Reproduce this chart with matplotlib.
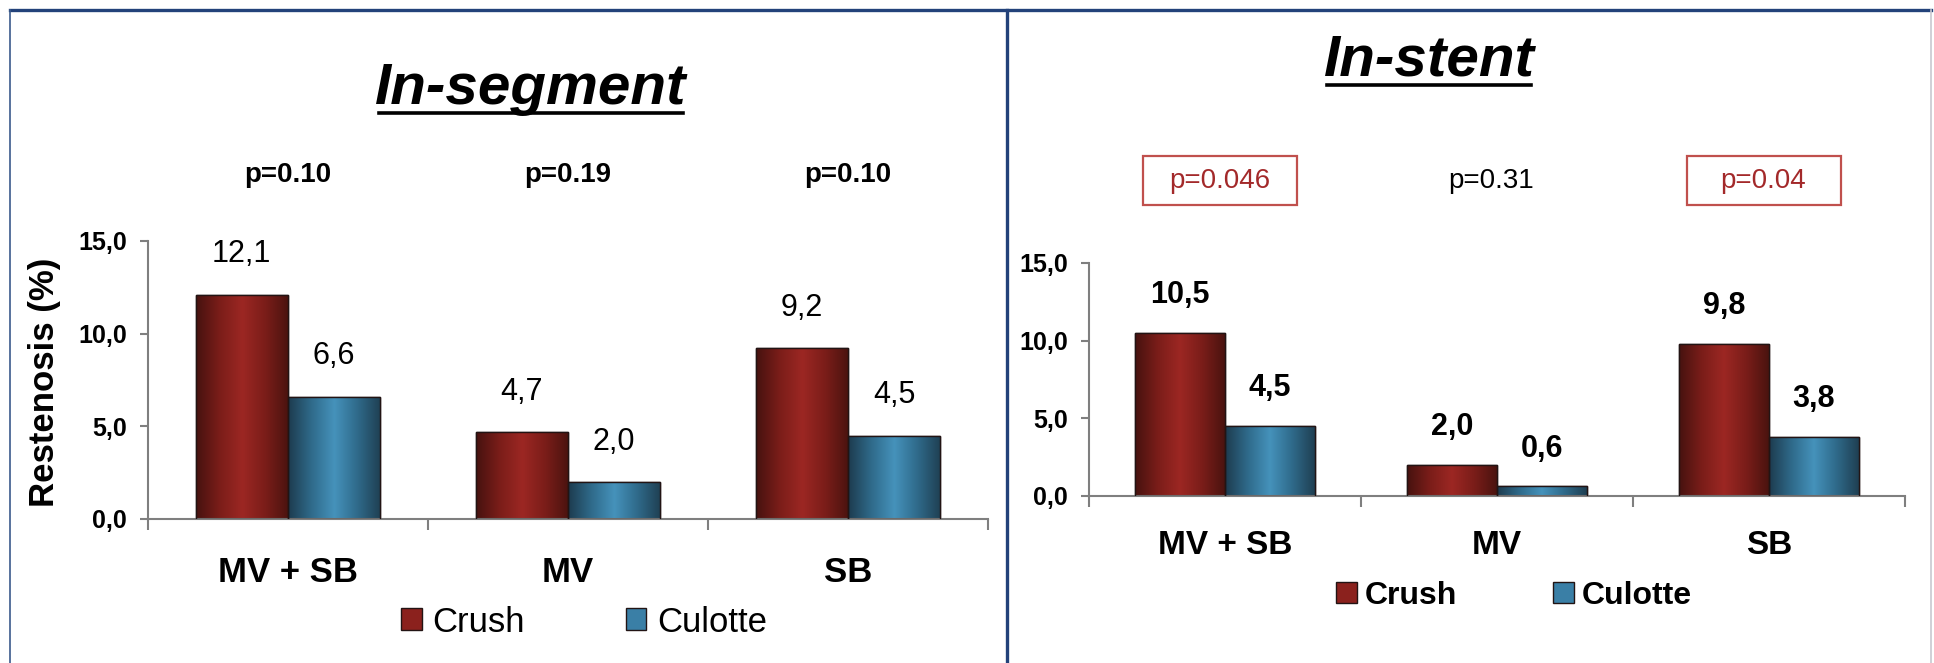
import matplotlib
matplotlib.use('Agg')
import numpy as np
import matplotlib.pyplot as plt
from matplotlib.colors import LinearSegmentedColormap
from matplotlib.lines import Line2D
from matplotlib.patches import Patch, Rectangle
from matplotlib.transforms import blended_transform_factory

plt.rcParams['font.family'] = ['Liberation Sans', 'DejaVu Sans']

# ------------------------------------------------------------------
# data
# ------------------------------------------------------------------
categories = ['MV + SB', 'MV', 'SB']
series_names = ['Crush', 'Culotte']

seg_crush = [12.1, 4.7, 9.2]
seg_culotte = [6.6, 2.0, 4.5]
seg_pvalues = ['p=0.10', 'p=0.19', 'p=0.10']

stent_crush = [10.5, 2.0, 9.8]
stent_culotte = [4.5, 0.6, 3.8]
stent_pvalues = ['p=0.046', 'p=0.31', 'p=0.04']
stent_significant = [True, False, True]

y_ticks = [0, 5, 10, 15]
# ------------------------------------------------------------------

W, H = 1934, 663
DPI = 100

crush_cmap = LinearSegmentedColormap.from_list(
    'crush', ['#46120f', '#7a1d19', '#9c2723', '#7a1d19', '#4a130f'])
culotte_cmap = LinearSegmentedColormap.from_list(
    'culotte', ['#1d3b4e', '#2f6a8a', '#4592bb', '#2f6a8a', '#1f3f52'])
crush_flat = '#8b211d'
culotte_flat = '#3a7fa6'
red_text = '#a3292a'


def fmt(v):
    return f'{v:.1f}'.replace('.', ',')


def shaded_bars(ax, xs, values, width, cmap, flat):
    bars = ax.bar(xs, values, width, color=flat, edgecolor='#221414',
                  linewidth=1.0, zorder=2)
    grad = np.linspace(0, 1, 256).reshape(1, -1)
    for b in bars:
        x0 = b.get_x()
        im = ax.imshow(grad, cmap=cmap, aspect='auto', zorder=2.5,
                       extent=[x0, x0 + b.get_width(), 0, b.get_height()])
        im.set_clip_path(b)
        edge = Rectangle((x0, 0), b.get_width(), b.get_height(), fill=False,
                         edgecolor='#221414', linewidth=1.0, zorder=3)
        ax.add_patch(edge)
    return bars


def style_axes(ax, label_pad, tick_size):
    for side in ['top', 'right']:
        ax.spines[side].set_visible(False)
    for side in ['left', 'bottom']:
        ax.spines[side].set_color('#7f7f7f')
        ax.spines[side].set_linewidth(1.5)
    ax.set_xlim(-0.5, 2.5)
    ax.set_ylim(0, 15)
    ax.set_yticks(y_ticks)
    ax.set_yticklabels([fmt(v) for v in y_ticks], fontsize=18, fontweight='bold')
    ax.tick_params(axis='y', length=6, width=1.5, color='#7f7f7f', pad=9)
    # boundary ticks between groups, names on minor ticks
    ax.set_xticks([-0.5, 0.5, 1.5, 2.5])
    ax.set_xticklabels([])
    ax.tick_params(axis='x', which='major', length=8, width=1.5, color='#7f7f7f')
    ax.set_xticks([0, 1, 2], minor=True)
    ax.set_xticklabels(categories, minor=True, fontsize=tick_size, fontweight='bold')
    ax.tick_params(axis='x', which='minor', length=0, pad=label_pad)


def draw_panel(ax, crush, culotte, value_weight, offset):
    x = np.arange(len(categories))
    bw = 0.33
    shaded_bars(ax, x - bw / 2, crush, bw, crush_cmap, crush_flat)
    shaded_bars(ax, x + bw / 2, culotte, bw, culotte_cmap, culotte_flat)
    for xi, v in zip(x - bw / 2, crush):
        ax.annotate(fmt(v), (xi, v), xytext=(0, offset), textcoords='offset points',
                    ha='center', va='center', fontsize=22, fontweight=value_weight)
    for xi, v in zip(x + bw / 2, culotte):
        ax.annotate(fmt(v), (xi, v), xytext=(0, offset), textcoords='offset points',
                    ha='center', va='center', fontsize=22, fontweight=value_weight)


def underlined_title(fig, text, x, y):
    t = fig.text(x, y, text, ha='center', va='baseline', fontsize=42,
                 fontweight='bold', fontstyle='italic')
    fig.canvas.draw()
    bb = t.get_window_extent().transformed(fig.transFigure.inverted())
    uy = y - 9 / H
    fig.add_artist(Line2D([bb.x0 + 0.002, bb.x1 - 0.002], [uy, uy],
                          transform=fig.transFigure, color='black', linewidth=2.6))


fig = plt.figure(figsize=(W / DPI, H / DPI), dpi=DPI)

# In-segment panel
ax1 = fig.add_axes([148 / W, 1 - 519 / H, 840 / W, 278 / H])
draw_panel(ax1, seg_crush, seg_culotte, 'normal', 29)
style_axes(ax1, 27, 25)
ax1.set_ylabel('Restenosis (%)', fontsize=25, fontweight='bold')
ax1.yaxis.set_label_coords(-0.103, 0.49)

tr1 = blended_transform_factory(ax1.transData, fig.transFigure)
for i, p in enumerate(seg_pvalues):
    ax1.text(i, 1 - 175 / H, p, transform=tr1, ha='center', va='center',
             fontsize=20, fontweight='bold', clip_on=False)

leg1 = ax1.legend(handles=[Patch(facecolor=crush_flat, edgecolor='#221414'),
                           Patch(facecolor=culotte_flat, edgecolor='#221414')],
                  labels=series_names, ncol=2, frameon=False, fontsize=25,
                  handlelength=0.6, handleheight=0.6, handletextpad=0.3,
                  columnspacing=2.9, loc='center',
                  bbox_to_anchor=(584 / W, 1 - 622 / H),
                  bbox_transform=fig.transFigure)

# In-stent panel
ax2 = fig.add_axes([1089 / W, 1 - 495.6 / H, 816 / W, 232.6 / H])
draw_panel(ax2, stent_crush, stent_culotte, 'bold', 27)
style_axes(ax2, 25, 24)

tr2 = blended_transform_factory(ax2.transData, fig.transFigure)
for i, (p, sig) in enumerate(zip(stent_pvalues, stent_significant)):
    ax2.text(i - 0.02, 1 - 181 / H, p, transform=tr2, ha='center', va='center',
             fontsize=20, color=red_text if sig else 'black', clip_on=False)
    if sig:
        ax2.add_patch(Rectangle((i - 0.02 - 0.283, 1 - 205 / H), 0.566, 49 / H,
                                transform=tr2, fill=False, edgecolor='#c0504d',
                                linewidth=1.6, clip_on=False))

ax2.legend(handles=[Patch(facecolor=crush_flat, edgecolor='#221414'),
                    Patch(facecolor=culotte_flat, edgecolor='#221414')],
           labels=series_names, ncol=2, frameon=False,
           prop={'size': 23, 'weight': 'bold'},
           handlelength=0.65, handleheight=0.65, handletextpad=0.25,
           columnspacing=3.0, loc='center',
           bbox_to_anchor=(1514 / W, 1 - 596 / H),
           bbox_transform=fig.transFigure)

underlined_title(fig, 'In-segment', 531 / W, 1 - 104 / H)
underlined_title(fig, 'In-stent', 1429 / W, 1 - 76 / H)

# slide frame lines
navy = '#23427a'
fig.add_artist(Line2D([10 / W, 1931 / W], [1 - 10 / H, 1 - 10 / H],
                      transform=fig.transFigure, color=navy, linewidth=2.4))
fig.add_artist(Line2D([10 / W, 10 / W], [0, 1 - 10 / H],
                      transform=fig.transFigure, color='#3b5a8c', linewidth=1.2))
fig.add_artist(Line2D([1007 / W, 1007 / W], [0, 1 - 10 / H],
                      transform=fig.transFigure, color=navy, linewidth=2.4))
fig.add_artist(Line2D([1931 / W, 1931 / W], [0, 1 - 10 / H],
                      transform=fig.transFigure, color='#c8c8d0', linewidth=1.2))

fig.savefig('out.png', dpi=DPI)
